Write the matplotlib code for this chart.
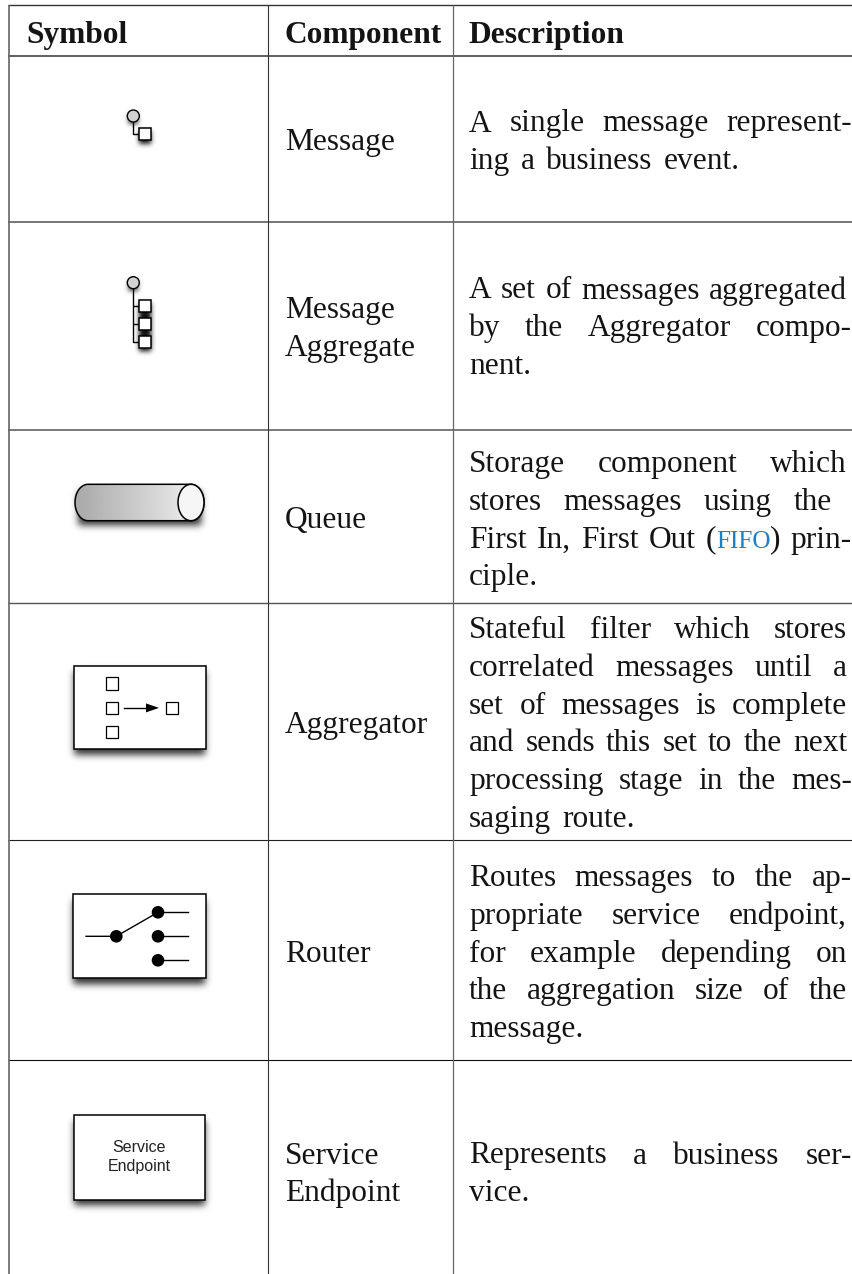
from math import erf

import matplotlib
matplotlib.use("Agg")
import matplotlib.pyplot as plt
import numpy as np
from matplotlib.patches import Circle, Ellipse, Polygon, Rectangle

# table text
headers = ["Symbol", "Component", "Description"]
components = [
    ["Message"],
    ["Message", "Aggregate"],
    ["Queue"],
    ["Aggregator"],
    ["Router"],
    ["Service", "Endpoint"],
]
# "|" splits a word in runs, only used for the blue FIFO
descriptions = [
    ["A single message represent-", "ing a business event."],
    ["A set of messages aggregated", "by the Aggregator compo-", "nent."],
    ["Storage component which", "stores messages using the", "First In, First Out (|FIFO|) prin-", "ciple."],
    ["Stateful filter which stores", "correlated messages until a", "set of messages is complete",
     "and sends this set to the next", "processing stage in the mes-", "saging route."],
    ["Routes messages to the ap-", "propriate service endpoint,", "for example depending on",
     "the aggregation size of the", "message."],
    ["Represents a business ser-", "vice."],
]
endpoint_label = ["Service", "Endpoint"]

SERIF = "Liberation Serif"
SANS = "Liberation Sans"
FS = 22.6
LINE = 38.0
INK = "#141414"

fig = plt.figure(figsize=(8.53, 12.74), dpi=100)
ax = fig.add_axes([0, 0, 1, 1])
ax.axis("off")
renderer = fig.canvas.get_renderer()


def text_width(s, **kw):
    t = ax.text(0, 0, s, family=SERIF, fontsize=kw.get("size", FS))
    w = t.get_window_extent(renderer).width
    t.remove()
    return w


def runs_of(word):
    runs = []
    for part in word.split("|"):
        if part == "FIFO":
            runs.append((part, "#1f7fc4", FS * 0.8))
        else:
            runs.append((part, INK, FS))
    return runs


def word_width(word):
    return sum(text_width(r[0], size=r[2]) for r in runs_of(word))


def draw_line(line, y, left, right=None):
    words = line.split(" ")
    widths = [word_width(w) for w in words]
    if right is None:
        gap = FS * 0.5
    else:
        gap = (right - left - sum(widths)) / max(len(words) - 1, 1)
    x = left
    for w, width in zip(words, widths):
        rx = x
        for s, c, size in runs_of(w):
            ax.text(rx, y, s, family=SERIF, fontsize=size, color=c, va="baseline", ha="left")
            rx += text_width(s, size=size)
        x += width + gap


def shadow(x0, y0, x1, y1, dy=6, s=5, a=0.8):
    # soft drop shadow under a rectangle
    xs = np.arange(x0 - 16, x1 + 16, 0.5)
    ys = np.arange(y0 - 12, y1 + 22, 0.5)
    e = np.vectorize(erf)
    ax_ = 0.5 * (e((xs - x0) / s) - e((xs - x1) / s))
    ay_ = 0.5 * (e((ys - y0 - dy) / s) - e((ys - y1 - dy) / s))
    img = np.zeros((len(ys), len(xs), 4))
    img[..., 3] = np.outer(ay_, ax_) * a
    ax.imshow(img, extent=(xs[0], xs[-1], ys[-1], ys[0]), origin="upper", aspect="auto",
              interpolation="bilinear", zorder=1)


def box(x0, y0, x1, y1, lw=1.1, z=3):
    ax.add_patch(Rectangle((x0, y0), x1 - x0, y1 - y0, fc="white", ec="black", lw=lw, zorder=z))


def stem(xs, ys):
    ax.plot(xs, ys, color="black", lw=1.0, zorder=2, solid_capstyle="butt", solid_joinstyle="miter")


# grid lines
for y, c, lw in [(5, "#333333", 1.0), (55.5, "#444444", 1.2), (221.5, "#777777", 1.4), (430, "#555555", 1.1),
                 (602.5, "#555555", 1.0), (839.5, "#222222", 0.8), (1060, "#111111", 0.8)]:
    ax.plot([8, 853], [y, y], color=c, lw=lw, zorder=0.5, solid_capstyle="butt")
for x, c, lw in [(8.7, "#666666", 1.2), (268.2, "#333333", 0.8), (453, "#666666", 0.9)]:
    ax.plot([x, x], [4.5, 1274], color=c, lw=lw, zorder=0.5, solid_capstyle="butt")

# header
for s, x in zip(headers, [26, 285, 469]):
    ax.text(x, 43, s, family=SERIF, weight="bold", fontsize=FS, color=INK, va="baseline")

# component column, centred lines on the row baseline
comp_y = [150, 337, 528, 733, 962, 1182.5]
for lines, yc in zip(components, comp_y):
    y = yc - (len(lines) - 1) * LINE / 2
    for i, s in enumerate(lines):
        ax.text(285, y + i * LINE, s, family=SERIF, fontsize=FS, color=INK, va="baseline")

# description column, justified
first_y = [131.5, 298.5, 472, 638, 886, 1163.5]
for lines, y0 in zip(descriptions, first_y):
    for i, s in enumerate(lines):
        if i == len(lines) - 1:
            right = None
        else:
            right = 852 if s.endswith("-") else 847
        if s.startswith("stores messages"):
            right = 832
        draw_line(s, y0 + i * (LINE - 0.2), 469, right)


def message_icon(cy):
    shadow(128, cy - 5, 138, cy + 5, dy=4, s=3.2, a=0.7)
    ax.add_patch(Circle((133.3, cy), 6, fc="#d2d2d2", ec="black", lw=1.0, zorder=3))


# message
message_icon(116)
stem([133.3, 133.3, 140], [122, 134, 134])
shadow(139.3, 127.7, 151.5, 140.3, dy=4, s=3.5, a=0.95)
box(139.3, 127.7, 151.5, 140.3)

# message aggregate
message_icon(282.7)
stem([133.3, 133.3, 140], [288, 342, 342])
for y in [306, 324]:
    stem([133.3, 140], [y, y])
shadow(139.3, 300, 151.5, 348, dy=4, s=3.5, a=0.95)
for y in [300, 318, 336]:
    box(139.3, y, 151.5, y + 12.4)

# queue
t = np.linspace(np.pi / 2, 3 * np.pi / 2, 40)
qx = np.r_[88 + 13 * np.cos(t), 191 + 13 * np.cos(t + np.pi)]
qy = np.r_[502.5 + 18.2 * np.sin(t), 502.5 + 18.2 * np.sin(t + np.pi)]
shadow(78, 486, 201, 520)
outline = Polygon(np.c_[qx, qy], closed=True, fc="none", ec="black", lw=1.1, zorder=4)
ax.add_patch(outline)
grad = np.linspace(0.66, 0.95, 200).reshape(1, -1)
im = ax.imshow(grad, extent=(75, 204, 521, 484), cmap="gray", vmin=0, vmax=1, aspect="auto", zorder=3)
im.set_clip_path(outline)
ax.add_patch(Ellipse((191, 502.5), 26, 36.4, fc="#f6f6f6", ec="black", lw=1.1, zorder=5))

# aggregator
shadow(74.3, 665.7, 205.7, 749.3)
box(74.3, 665.7, 205.7, 749.3)
for y in [677.3, 701.7, 725.7]:
    box(105.7, y, 118.3, y + 12.4, lw=0.9, z=4)
box(166, 701.7, 178.3, 714.1, lw=0.9, z=4)
ax.plot([124, 148], [707.9, 707.9], color="black", lw=1.0, zorder=4)
ax.add_patch(Polygon([(146, 703.4), (159, 707.9), (146, 712.4)], closed=True, fc="black", ec="none", zorder=4))

# router
shadow(73.3, 894.3, 205.7, 978.3)
box(73.3, 894.3, 205.7, 978.3)
ax.plot([86, 116.3, 158], [936.3, 936.3, 912.3], color="black", lw=1.0, zorder=4)
for y in [912.3, 936.3, 960.3]:
    ax.plot([158, 188], [y, y], color="black", lw=1.0, zorder=4)
    ax.add_patch(Circle((158, y), 6.3, fc="black", ec="none", zorder=5))
ax.add_patch(Circle((116.3, 936.3), 6.3, fc="black", ec="none", zorder=5))

# service endpoint
shadow(73.7, 1115.3, 205, 1199.7)
box(73.7, 1115.3, 205, 1199.7)
for s, y in zip(endpoint_label, [1147.7, 1166.7]):
    ax.text(139, y, s, family=SANS, fontsize=11.5, color="#222222", ha="center", va="center", zorder=5)

ax.set_xlim(0, 853)
ax.set_ylim(1274, 0)
fig.savefig("out.png", dpi=100, facecolor="white")
